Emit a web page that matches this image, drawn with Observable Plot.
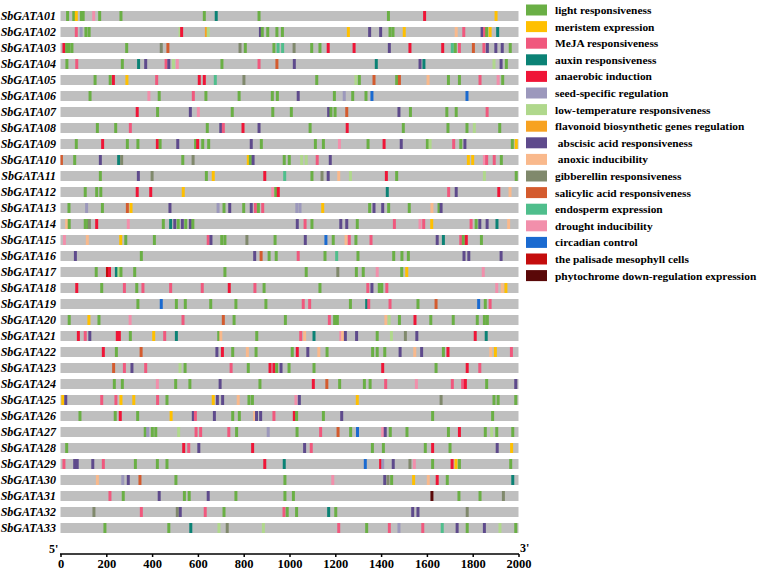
<!DOCTYPE html>
<html><head><meta charset="utf-8">
<script src="https://cdn.jsdelivr.net/npm/d3@7"></script>
<script src="https://cdn.jsdelivr.net/npm/@observablehq/plot@0.6"></script>
<style>
body{margin:0;background:#fff;}
#chart svg{display:block;}
</style></head><body><div id="chart"></div>
<script>
const genes = Array.from({length: 33}, (_, i) => "SbGATA" + String(i + 1).padStart(2, "0"));
const elementTypes = [
  "light responsiveness", "meristem expression", "MeJA responsiveness", "auxin responsiveness",
  "anaerobic induction", "seed-specific regulation", "low-temperature responsiveness",
  "flavonoid biosynthetic genes regulation", " abscisic acid responsiveness", " anoxic inducibility",
  "gibberellin responsiveness", "salicylic acid responsiveness", "endosperm expression",
  "drought inducibility", "circadian control", "the palisade mesophyll cells",
  "phytochrome down-regulation expression"
];
const elementCodes = ["L","M","J","A","N","S","T","F","B","X","G","C","E","D","Z","P","H"];
const elementColors = ["#6aaf45","#ffc000","#f0587d","#0b8275","#ef1537","#9c98bc","#b0d88c",
  "#f7a221","#5e4a8c","#f9b98c","#80896c","#d45b2e","#4fbe8c","#f28fab","#1a6ad0","#c40d0d","#5a0808"];
const xTicks = [0, 200, 400, 600, 800, 1000, 1200, 1400, 1600, 1800, 2000];
const promoterLength = 2000;
// element positions (bp from 5' end) + element code, one string per gene
const sites = [
  "31L 58L 69M 91L 99L 145D 171L 264L 628L 680A 867L 1432L 1590N 1902M",
  "69J 90S 111L 125L 522T 529N 637F 645T 873B 881L 905L 945L 969L 1257M 1350B 1398B 1439L 1452L 1501M 1728X 1761J 1841B 1852J 1861L 1876M 1909A",
  "15N 27L 37L 50L 289L 440G 469C 784G 807L 932L 950E 970E 1020G 1097L 1133L 1169N 1282N 1436B 1526N 1669N 1711E 1724L 1742J 1803C 1849J 1864B 1901B 1929B 1964L",
  "28L 71J 270L 341A 372B 461J 473B 493T 510D 705L 867J 945C 1021B 1379A 1570B 1587A 1893T 1924B 1947L",
  "151L 217L 231N 290M 420J 606N 628N 676E 801G 1119L 1290T 1305L 1369C 1468L 1480C 1605X 1694L 1742L 1832J 1911D 1931L",
  "129L 386D 431L 580J 635L 780L 925L 947L 1038B 1196L 1239S 1276L 1334L 1360Z 1775Z",
  "335N 424L 567B 602D 750L 927L 1008L 1171B 1181L 1199L 1250C 1478B 1528L 1687L 1728L 1863J",
  "161L 241L 305J 641L 700B 711J 797N 867B 1090L 1252N 1497L 1692L 1775L 1807T 1918L",
  "69L 184N 292L 338L 423N 435L 512B 590L 599N 621L 647L 833B 877L 1113L 1148L 1218D 1343L 1413N 1488B 1602L 1614T 1717J 1748L 1766B 1973L 1990M",
  "4C 62L 174B 254A 267G 534L 579G 820M 829L 841B 977L 999L 1053T 1073T 1121J 1178B 1781M 1800M 1851D 1861J 1894J 1925L",
  "174L 340B 400G 637L 667M 892N 979E 1098L 1142G 1169B 1215X 1266T 1423N 1468L 1851T 1990L",
  "108L 158L 176L 335N 394N 536M 927D 940L 951N 1427A 1695J 1728B 1914N 1963X",
  "37L 114S 183L 292C 308M 478B 688S 714L 739B 800L 833B 851J 864L 883J 1032S 1046S 1145M 1350L 1369B 1407B 1433L 1523L 1622X 1653L 1662B",
  "27X 38L 108L 119L 126G 158N 296D 449L 481A 499B 514L 532B 547L 567B 578L 1034B 1068J 1098L 1224B 1250B 1296L 1458J 1570D 1586J 1621M 1793J 1815L 1831B 1863B 1906A 1957X",
  "17D 117X 263M 285L 410L 645J 657B 704L 718L 814G 937L 1069B 1159Z 1191L 1247X 1261J 1290L 1356J 1645B 1672A 1748J 1759L 1772N 1838L",
  "65B 353L 848B 876C 911L 942L 1038J 1155L 1206E 1299L 1455L 1491L 1519L 1762B 1783B 1924B",
  "156L 205P 214N 244A 255T 264L 324L 718L 1073L 1211G 1292L 1322L 1383D 1490L 1512M 1846D",
  "71N 180L 279J 333L 360J 481J 619J 737N 849J 889L 1133L 1342J 1360B 1392L 1403L 1425J 1905D 1929X 1945M",
  "338L 440Z 506L 545L 656L 766L 897L 1060J 1088J 1266L 1337A 1346J 1439J 1561L 1640C 1826Z 1855L 1876J",
  "38L 124M 168L 304D 535J 711C 758L 982L 1174J 1197L 1209L 1421X 1435T 1480L 1548N 1617L 1715L 1820L 1851L 1864L",
  "78N 108J 128B 248N 257N 305L 407M 455J 506A 691L 700X 857L 1049J 1066X 1107A 1224D 1232X 1244B 1293B 1383L 1445T 1506G 1556B 1811N 1859A",
  "187N 244L 352C 683B 707N 752L 816X 854L 1012L 1034N 1080B 1128X 1164L 1363L 1383L 1416L 1483B 1547X 1577B 1672L 1692N 1879X 1899M 1969J",
  "232C 279J 312B 372J 522T 544L 745J 820L 915N 932N 944L 963B 998L 1107L 1407N 1640L 1776N 1831J",
  "235L 270L 423D 503L 565L 697B 871L 1104N 1163C 1219L 1327L 1352L 1420J 1554D 1711J 1756J 1768N 1861L 1988B",
  "10M 23B 180J 242J 264M 320M 424J 465L 667M 685B 708B 776X 823L 838L 1028D 1043B 1296M 1662G 1893L 1911L 1988L",
  "85L 239L 261N 337L 483M 580B 589J 672B 752L 781L 848X 856B 874B 932J 1021N 1031L 1148L 1228B 1625L 1887L",
  "370L 381S 401L 416L 516T 592J 612J 735J 769L 907S 1033L 1136J 1212C 1267L 1297Z 1407D 1418B 1440L 1513L 1694L 1742N 1855L 1883T 1905L 1975L",
  "27L 538N 560J 604B 839N 1066B 1095J 1362L 1410L 1593L 1625N 1701L 1907B 1970M",
  "15J 62B 73B 141B 187J 327L 423L 465L 892N 977A 1331Z 1398N 1407S 1453B 1526G 1545D 1625L 1710N 1727M 1742L 1966L",
  "161X 272S 296B 347C 504L 980L 1189D 1416B 1430G 1446L 1542M 1606X 1645N 1689L 1975A",
  "216J 274L 431B 541L 562L 645B 766L 980L 1017L 1622H 1740L 1832L 1934G",
  "146G 353J 510G 523B 632J 714L 976J 990L 1031L 1171A 1202L 1538B 1561B 1776G",
  "194L 473L 569A 692T 728G 886T 1215J 1337L 1436J 1478S 1582J 1667E 1732B 1776L 1851B 1919T 1988L"
];

const data = [];
sites.forEach((s, i) => {
  for (const m of s.matchAll(/(\d+)([A-Z])/g)) {
    data.push({gene: genes[i], pos: +m[1], type: elementTypes[elementCodes.indexOf(m[2])]});
  }
});
const half = 6.5;
const serif = "'Liberation Serif', 'Times New Roman', serif";

const plot = Plot.plot({
  width: 759, height: 570,
  marginLeft: 60.5, marginRight: 240.5, marginTop: 0, marginBottom: 16,
  style: {background: "white", fontFamily: serif, color: "black"},
  x: {domain: [0, promoterLength]},
  y: {type: "band", domain: genes, range: [-0.25, 544.25], paddingInner: 0.35, paddingOuter: 0.175},
  color: {domain: elementTypes, range: elementColors},
  marks: [
    Plot.barX(genes, {x1: 0, x2: promoterLength, y: d => d, fill: "#bfbfbf"}),
    Plot.barX(data, {x1: d => Math.max(0, d.pos - half), x2: d => Math.min(promoterLength, d.pos + half), y: "gene", fill: "type"}),
    Plot.axisY({tickSize: 0, tickPadding: 5, fontSize: 12, fontWeight: "bold", fontStyle: "italic", label: null}),
    Plot.axisX({ticks: xTicks, tickSize: 3, tickPadding: 2, fontSize: 12.5, fontWeight: "bold", strokeWidth: 1.5, label: null, tickFormat: d => String(d)})
  ]
});

const svg = d3.select(plot);
const xs = plot.scale("x");
const axisY = 554;
svg.append("line").attr("x1", xs.apply(0) - 0.5).attr("x2", xs.apply(promoterLength) + 0.5)
  .attr("y1", axisY).attr("y2", axisY).attr("stroke", "black").attr("stroke-width", 1.6);
svg.append("text").text("5'").attr("x", 49).attr("y", 553).attr("text-anchor", "start")
  .attr("font-size", 12).attr("font-weight", "bold").attr("font-family", serif).attr("fill", "black");
svg.append("text").text("3'").attr("x", 520).attr("y", 552).attr("text-anchor", "start")
  .attr("font-size", 12).attr("font-weight", "bold").attr("font-family", serif).attr("fill", "black");

const lg = svg.append("g").attr("text-anchor", "start");
elementTypes.forEach((t, i) => {
  const cy = 10 + 16.6 * i;
  lg.append("rect").attr("x", 526).attr("y", cy - 5.5).attr("width", 21).attr("height", 11).attr("fill", elementColors[i]);
  lg.append("text").text(t).attr("x", 555).attr("y", cy + 4).attr("font-size", 11.4).attr("text-anchor", "start")
    .attr("font-weight", "bold").attr("font-family", serif).style("white-space", "pre").attr("fill", "black");
});

document.getElementById("chart").append(plot);
</script>
</body></html>
